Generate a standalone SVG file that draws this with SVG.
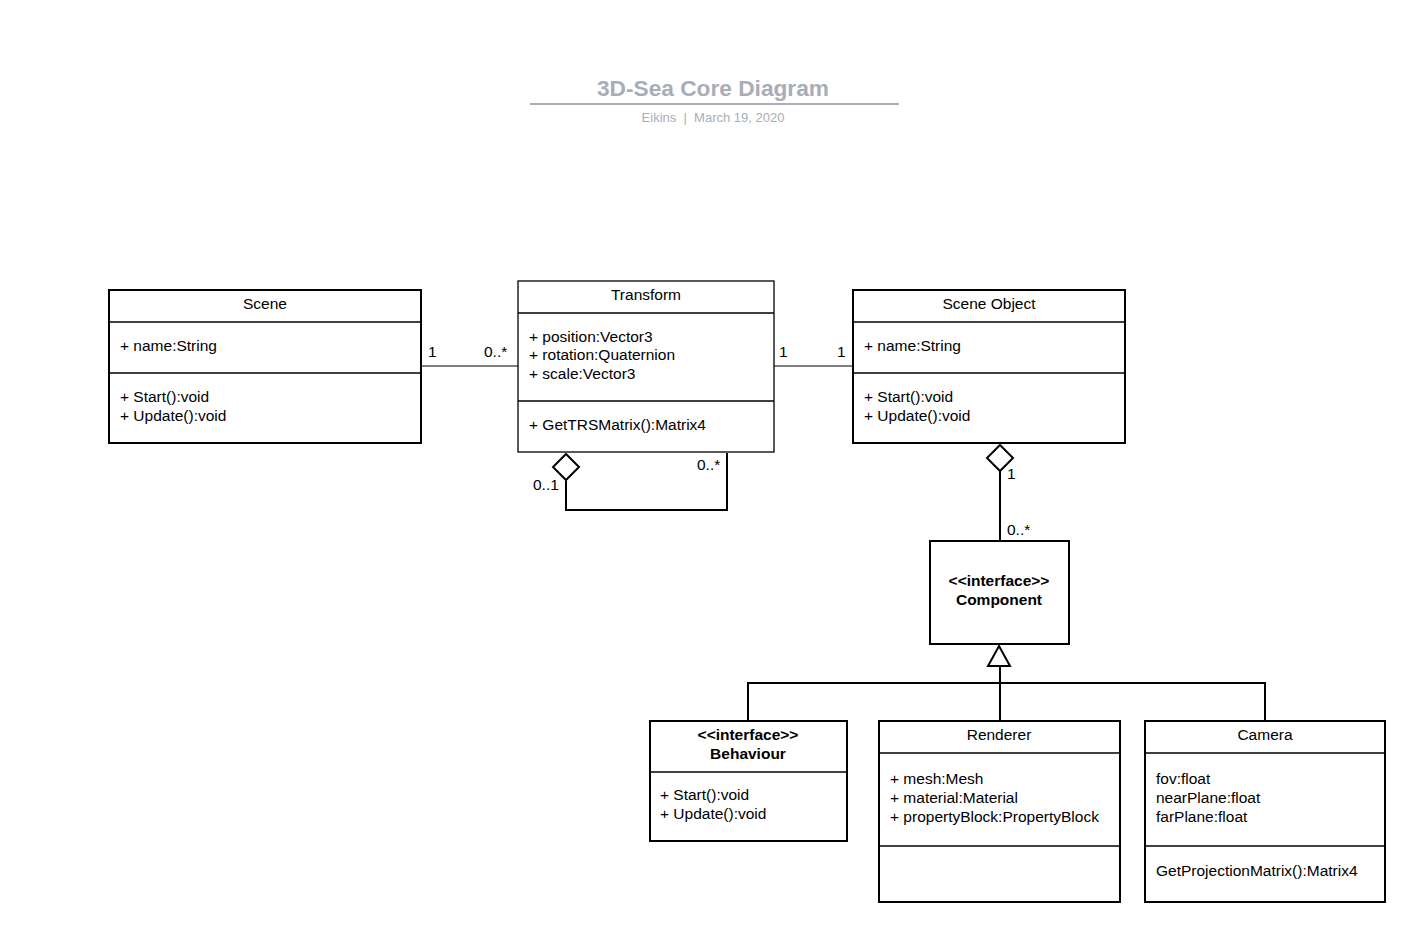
<svg xmlns="http://www.w3.org/2000/svg" width="1423" height="937" viewBox="0 0 1423 937">
<style>
text{font-family:"Liberation Sans",Arial,sans-serif;font-size:15.5px;fill:#000}
.c{text-anchor:middle}
.b{font-weight:bold}
.box{fill:#fff;stroke:#000;stroke-width:2}
.div{stroke:#000;stroke-width:1.5}
.thin{fill:none;stroke:#000;stroke-width:1.2}
.thick{fill:none;stroke:#000;stroke-width:2}
</style>
<rect width="1423" height="937" fill="#fff"/>
<g id="title">
<text x="713" y="96" class="c b" style="font-size:22.7px;fill:#a9adb7">3D-Sea Core Diagram</text>
<line x1="530" y1="104" x2="899" y2="104" stroke="#a9adb7" stroke-width="2"/>
<text x="713" y="122" class="c" style="font-size:13px;fill:#a9adb7" xml:space="preserve">Eikins  |  March 19, 2020</text>
</g>
<g id="connectors">
<line x1="421" y1="366" x2="518" y2="366" class="thin"/>
<text x="428" y="357">1</text>
<text x="484" y="357">0..*</text>
<line x1="774" y1="366" x2="853" y2="366" class="thin"/>
<text x="779" y="357">1</text>
<text x="837" y="357">1</text>
<path d="M566 481 V510 H727 V453" class="thick"/>
<path d="M566 454 L579 467 L566 480 L553 467 Z" fill="#fff" stroke="#000" stroke-width="2"/>
<text x="533" y="490">0..1</text>
<text x="697" y="470">0..*</text>
<line x1="1000" y1="471" x2="1000" y2="541" class="thick"/>
<path d="M1000 445 L1013 458 L1000 471 L987 458 Z" fill="#fff" stroke="#000" stroke-width="2"/>
<text x="1007" y="479">1</text>
<text x="1007" y="535">0..*</text>
<path d="M1000 666 V683 M748 721 V683 H1265 V721 M1000 683 V721" class="thick"/>
<path d="M999 646 L1010 666 L988 666 Z" fill="#fff" stroke="#000" stroke-width="2"/>
</g>
<g id="scene">
<rect x="109" y="290" width="312" height="153" class="box"/>
<line x1="109" y1="322" x2="421" y2="322" class="div"/>
<line x1="109" y1="373" x2="421" y2="373" class="div"/>
<text x="265" y="309" class="c">Scene</text>
<text x="120" y="351">+ name:String</text>
<text x="120" y="402">+ Start():void</text>
<text x="120" y="421">+ Update():void</text>
</g>
<g id="transform">
<rect x="518" y="281" width="256" height="171" fill="#fff" stroke="#000" stroke-width="1.3"/>
<line x1="518" y1="313" x2="774" y2="313" class="div"/>
<line x1="518" y1="401" x2="774" y2="401" class="div"/>
<text x="646" y="300" class="c">Transform</text>
<text x="529" y="342">+ position:Vector3</text>
<text x="529" y="360">+ rotation:Quaternion</text>
<text x="529" y="379">+ scale:Vector3</text>
<text x="529" y="430">+ GetTRSMatrix():Matrix4</text>
</g>
<g id="sceneobject">
<rect x="853" y="290" width="272" height="153" class="box"/>
<line x1="853" y1="322" x2="1125" y2="322" class="div"/>
<line x1="853" y1="373" x2="1125" y2="373" class="div"/>
<text x="989" y="309" class="c">Scene Object</text>
<text x="864" y="351">+ name:String</text>
<text x="864" y="402">+ Start():void</text>
<text x="864" y="421">+ Update():void</text>
</g>
<g id="component">
<rect x="930" y="541" width="139" height="103" class="box"/>
<text x="999" y="586" class="c b">&lt;&lt;interface&gt;&gt;</text>
<text x="999" y="605" class="c b">Component</text>
</g>
<g id="behaviour">
<rect x="650" y="721" width="197" height="120" class="box"/>
<line x1="650" y1="772" x2="847" y2="772" class="div"/>
<text x="748" y="740" class="c b">&lt;&lt;interface&gt;&gt;</text>
<text x="748" y="759" class="c b">Behaviour</text>
<text x="660" y="800">+ Start():void</text>
<text x="660" y="819">+ Update():void</text>
</g>
<g id="renderer">
<rect x="879" y="721" width="241" height="181" class="box"/>
<line x1="879" y1="753" x2="1120" y2="753" class="div"/>
<line x1="879" y1="846" x2="1120" y2="846" class="div"/>
<text x="999" y="740" class="c">Renderer</text>
<text x="890" y="784">+ mesh:Mesh</text>
<text x="890" y="803">+ material:Material</text>
<text x="890" y="822">+ propertyBlock:PropertyBlock</text>
</g>
<g id="camera">
<rect x="1145" y="721" width="240" height="181" class="box"/>
<line x1="1145" y1="753" x2="1385" y2="753" class="div"/>
<line x1="1145" y1="846" x2="1385" y2="846" class="div"/>
<text x="1265" y="740" class="c">Camera</text>
<text x="1156" y="784">fov:float</text>
<text x="1156" y="803">nearPlane:float</text>
<text x="1156" y="822">farPlane:float</text>
<text x="1156" y="876">GetProjectionMatrix():Matrix4</text>
</g>
</svg>
